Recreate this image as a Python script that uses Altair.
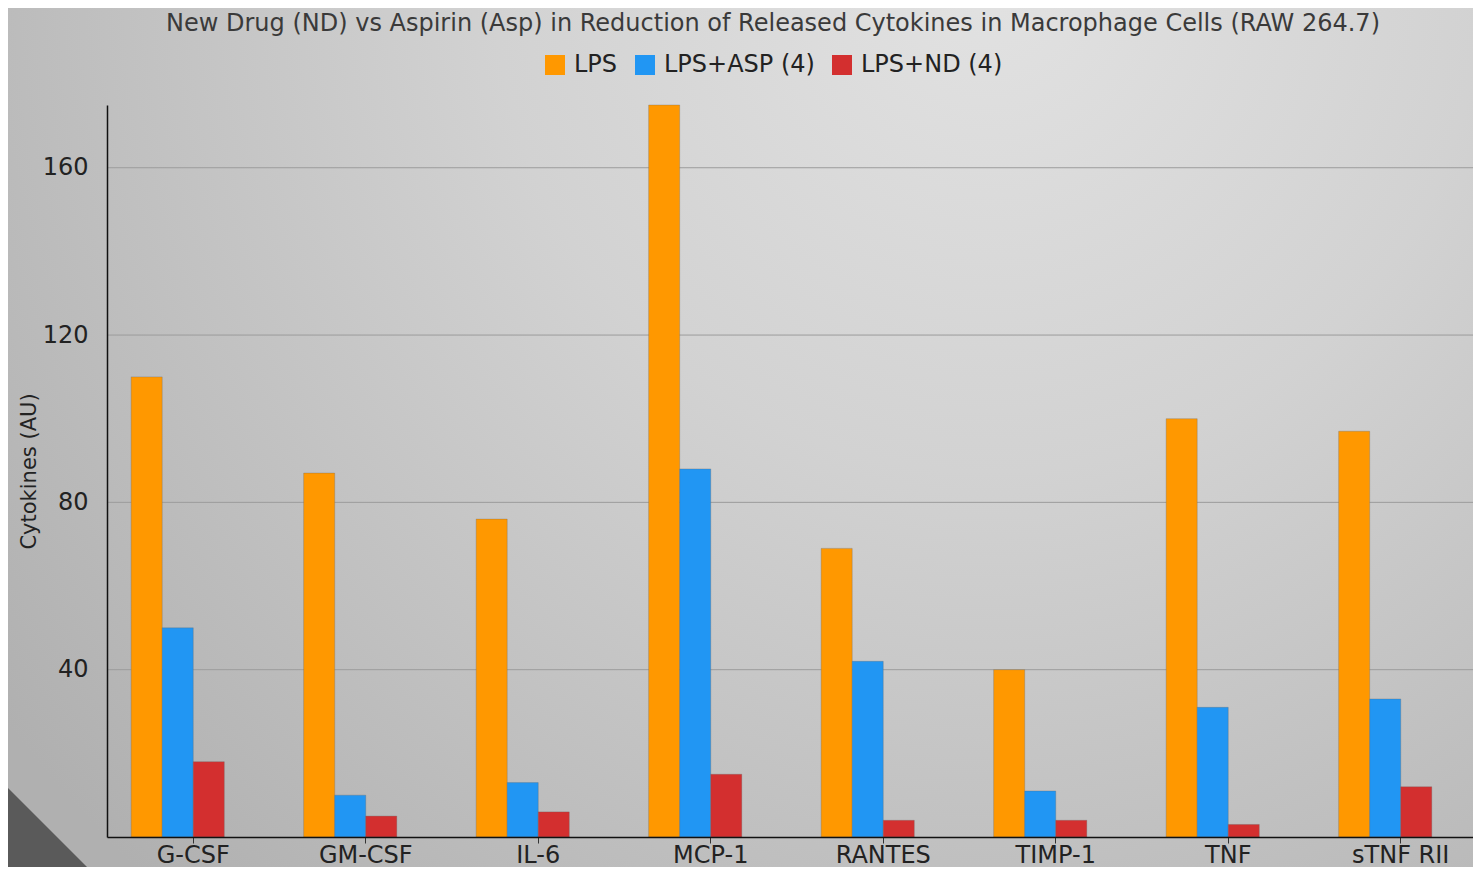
import altair as alt
import pandas as pd

# ---- data ----
categories = ["G-CSF", "GM-CSF", "IL-6", "MCP-1", "RANTES", "TIMP-1", "TNF", "sTNF RII"]
series = ["LPS", "LPS+ASP (4)", "LPS+ND (4)"]
lps = [110, 87, 76, 175, 69, 40, 100, 97]
lps_asp = [50, 10, 13, 88, 42, 11, 31, 33]
lps_nd = [18, 5, 6, 15, 4, 4, 3, 12]
colors = ["#FF9800", "#2196F3", "#D32F2F"]
grid_values = [40, 80, 120, 160]
y_ticks = [40, 80, 120, 160]
title_text = "New Drug (ND) vs Aspirin (Asp) in Reduction of Released Cytokines in Macrophage Cells (RAW 264.7)"
y_title = "Cytokines (AU)"

rows = []
for s, vals in zip(series, [lps, lps_asp, lps_nd]):
    for c, v in zip(categories, vals):
        rows.append({"cytokine": c, "series": s, "value": v})
df = pd.DataFrame(rows)
grid_df = pd.DataFrame({"value": grid_values})

W, H = 1380, 732
FONT = "DejaVu Sans"

yscale = alt.Scale(domain=[0, 175], nice=False, zero=True)

# background gradient (decoration)
bg_grad = alt.Gradient(
    gradient="radial",
    stops=[alt.GradientStop(color="#e2e2e2", offset=0),
           alt.GradientStop(color="#d2d2d2", offset=0.4),
           alt.GradientStop(color="#b0b0b0", offset=1)],
    x1=0.65, y1=0.2, r1=0, x2=0.65, y2=0.2, r2=0.8,
)
bg = alt.Chart(pd.DataFrame({"k": [0]})).mark_rect(fill=bg_grad).encode(
    x=alt.value(-120), x2=alt.value(W + 40), y=alt.value(-120), y2=alt.value(H + 60)
)

tri = alt.Chart(pd.DataFrame({"k": [0]})).mark_point(
    shape="M-1,-1L1,1L-1,1Z", size=40000, filled=True, fill="#5a5a5a", opacity=1, strokeWidth=0
).encode(x=alt.value(-7), y=alt.value(775))

title = alt.Chart(pd.DataFrame({"t": [title_text]})).mark_text(
    font=FONT, fontSize=24, color="#3a3a3a", align="center", baseline="middle"
).encode(text="t:N", x=alt.value(666), y=alt.value(-81))

grid = alt.Chart(grid_df).mark_rule(color="#9c9c9c", strokeWidth=1).encode(
    y=alt.Y("value:Q", scale=yscale, title=y_title)
)

bars = alt.Chart(df).mark_bar(stroke="#666666", strokeWidth=0.6, strokeOpacity=0.5).encode(
    x=alt.X(
        "cytokine:N",
        sort=categories,
        scale=alt.Scale(domain=categories, paddingInner=0.28, paddingOuter=0.14),
        axis=alt.Axis(
            title=None, labelAngle=0, labelFont=FONT, labelFontSize=24, labelColor="#222222",
            domainColor="#111111", domainWidth=1.5, tickColor="#333333", tickSize=6,
            labelPadding=0, zindex=1,
        ),
    ),
    xOffset=alt.XOffset("series:N", scale=alt.Scale(domain=series + ["_gap"], paddingInner=0, paddingOuter=0)),
    y=alt.Y(
        "value:Q",
        scale=yscale,
        title=y_title,
        axis=alt.Axis(
            values=y_ticks, grid=False, ticks=False, labelFont=FONT, labelFontSize=24,
            labelColor="#222222", labelPadding=19, domainColor="#111111", domainWidth=1.5,
            titleFont=FONT, titleFontSize=21, titleFontWeight="normal", titleColor="#222222",
            titleX=-68, titleY=H / 2, zindex=1,
        ),
    ),
    color=alt.Color(
        "series:N",
        scale=alt.Scale(domain=series, range=colors),
        legend=alt.Legend(
            title=None, orient="none", legendX=436, legendY=-52, direction="horizontal",
            symbolType="square", symbolSize=400, symbolStrokeWidth=0, symbolOpacity=1,
            labelFont=FONT, labelFontSize=24, labelColor="#222222", columnPadding=15,
            labelOffset=7, zindex=1,
        ),
    ),
)

chart = alt.layer(bg, tri, title, grid, bars).properties(
    width=W,
    height=H,
    autosize=alt.AutoSizeParams(type="none"),
    padding={"left": 99, "top": 97, "right": -14, "bottom": 30},
).configure_view(strokeWidth=0).configure(background="#c8c8c8")

chart.save("out.html", embed_options={"renderer": "svg", "actions": False})
